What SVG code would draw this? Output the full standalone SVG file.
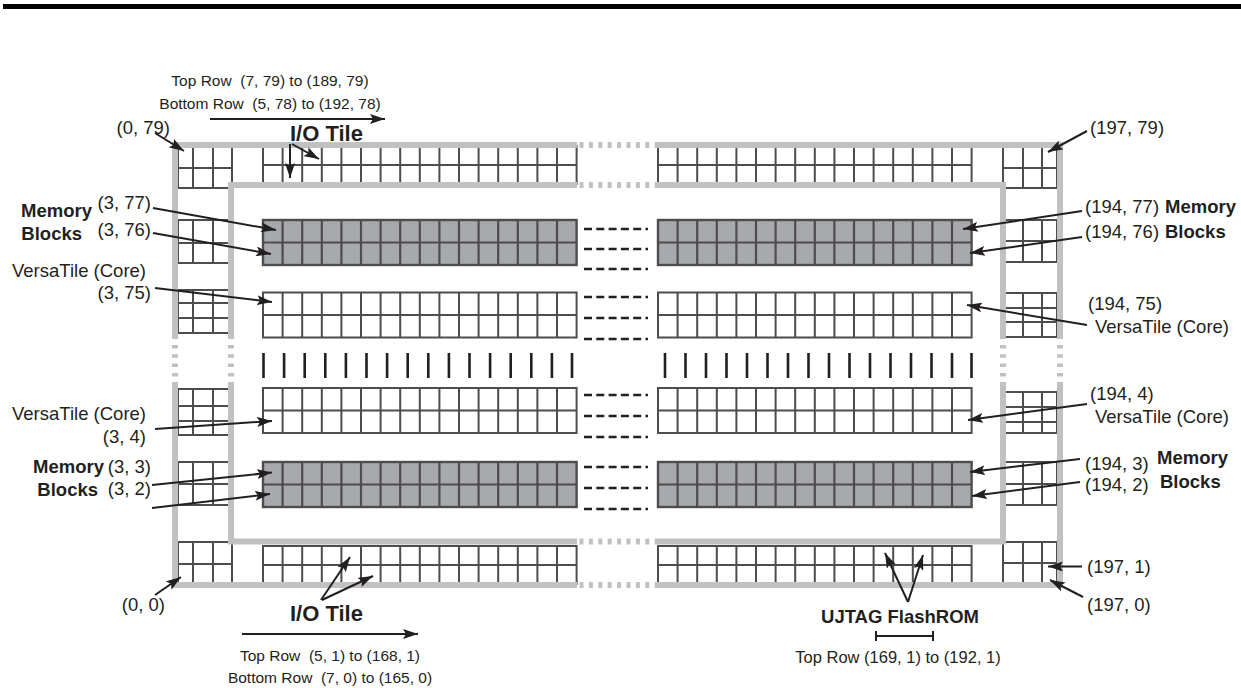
<svg xmlns="http://www.w3.org/2000/svg" xmlns:xlink="http://www.w3.org/1999/xlink" width="1241" height="688" viewBox="0 0 1241 688">
<style>
.g{fill:none;stroke:#4d4d4d;stroke-width:2}
.w{fill:#fff;stroke:#4d4d4d;stroke-width:2}
.m{fill:#a7a9ac;stroke:#4d4d4d;stroke-width:2.4}
.fr{fill:none;stroke:#bfc1c3;stroke-width:6}
.dt{fill:none;stroke:#bfc1c3;stroke-width:6;stroke-dasharray:4 5.4}
.dv{fill:none;stroke:#bfc1c3;stroke-width:6;stroke-dasharray:3.5 5.8}
.ds{fill:none;stroke:#231f20;stroke-width:2.6;stroke-dasharray:8 4.3}
.bar{fill:none;stroke:#231f20;stroke-width:2.6}
.ar{fill:none;stroke:#231f20;stroke-width:2;marker-end:url(#ah)}
.t{font-family:"Liberation Sans",Arial,sans-serif;font-size:18.5px;fill:#231f20}
.r{font-size:15.5px}
.r2{font-size:16.5px}
.b{font-weight:bold;font-size:18.5px}
.big{font-weight:bold;font-size:22px}
</style>
<defs>
<marker id="ah" markerUnits="userSpaceOnUse" markerWidth="16" markerHeight="10" viewBox="0 0 16 10" refX="15" refY="5" orient="auto">
<path d="M0,0 L15,5 L0,10 L3,5 Z" fill="#231f20"/>
</marker>
<path id="cols45" d="M19.6,0V45M39.2,0V45M58.8,0V45M78.4,0V45M98,0V45M117.6,0V45M137.2,0V45M156.8,0V45M176.4,0V45M196,0V45M215.6,0V45M235.2,0V45M254.8,0V45M274.4,0V45M294,0V45"/>
<path id="cols38" d="M19.6,0V38M39.2,0V38M58.8,0V38M78.4,0V38M98,0V38M117.6,0V38M137.2,0V38M156.8,0V38M176.4,0V38M196,0V38M215.6,0V38M235.2,0V38M254.8,0V38M274.4,0V38M294,0V38"/>
<g id="memblk"><rect class="m" width="313.6" height="45"/><use xlink:href="#cols45" class="g" style="stroke-width:2.2"/><path class="g" d="M0,22.5H313.6"/></g>
<g id="vtblk"><rect class="w" width="313.6" height="45"/><use xlink:href="#cols45" class="g"/><path class="g" d="M0,22.5H313.6"/></g>
<g id="ioblk"><rect class="w" width="313.6" height="38"/><use xlink:href="#cols38" class="g"/><path class="g" d="M0,19H313.6"/></g>
</defs>
<rect x="3" y="4" width="1238" height="5" fill="#000"/>

<g id="io-top-left"><use xlink:href="#ioblk" x="263" y="146"/></g>
<g id="io-top-right"><use xlink:href="#ioblk" x="658" y="146"/></g>
<g id="io-bottom-left"><use xlink:href="#ioblk" x="263" y="546"/></g>
<g id="io-bottom-right"><use xlink:href="#ioblk" x="658" y="546"/></g>

<g id="left-io-column">
<rect class="w" x="178" y="146" width="54" height="42"/><path class="g" d="M193,146V188M213,146V188M178,168H232"/>
<rect class="w" x="178" y="220" width="53" height="43"/><path class="g" d="M193,220V263M213,220V263M178,243H231"/>
<rect class="w" x="178" y="290" width="53" height="43"/><path class="g" d="M193,290V333M213,290V333M178,303H231M178,318H231"/>
<rect class="w" x="178" y="389" width="53" height="46"/><path class="g" d="M193,389V435M213,389V435M178,406H231M178,421H231"/>
<rect class="w" x="178" y="462" width="53" height="43"/><path class="g" d="M193,462V505M213,462V505M178,484H231"/>
<rect class="w" x="178" y="542" width="54" height="43"/><path class="g" d="M193,542V585M213,542V585M178,564H232"/>
</g>
<g id="right-io-column">
<rect class="w" x="1003" y="146" width="54" height="42"/><path class="g" d="M1023,146V188M1042,146V188M1003,168H1057"/>
<rect class="w" x="1003" y="220" width="54" height="42"/><path class="g" d="M1023,220V262M1042,220V262M1003,241H1057"/>
<rect class="w" x="1003" y="293" width="54" height="44"/><path class="g" d="M1023,293V337M1042,293V337M1003,308H1057M1003,322H1057"/>
<rect class="w" x="1003" y="392" width="54" height="41"/><path class="g" d="M1023,392V433M1042,392V433M1003,407H1057M1003,422H1057"/>
<rect class="w" x="1003" y="462" width="54" height="43"/><path class="g" d="M1023,462V505M1042,462V505M1003,484H1057"/>
<rect class="w" x="1003" y="542" width="54" height="43"/><path class="g" d="M1023,542V585M1042,542V585M1003,563H1057"/>
</g>

<g id="frame">
<path class="fr" d="M172,145H577M656,145H1063M172,585H577M656,585H1063M175,142V339M175,382V588M1060,142V339M1060,382V588"/>
<path class="fr" d="M228,185H577M656,185H1006M228,541.5H577M656,541.5H1006M231,182V339M231,382V544.5M1003,182V339M1003,382V544.5"/>
<path class="dt" d="M579.5,145H656M579.5,185H656M579.5,541.5H656M579.5,585H656"/>
<path class="dv" d="M175,345V378M231,345V378M1003,345V378M1060,345V378"/>
</g>

<g id="mem-top-left"><use xlink:href="#memblk" x="263" y="220"/></g>
<g id="mem-top-right"><use xlink:href="#memblk" x="658" y="220"/></g>
<g id="vt-top-left"><use xlink:href="#vtblk" x="263" y="292.5"/></g>
<g id="vt-top-right"><use xlink:href="#vtblk" x="658" y="292.5"/></g>
<g id="vt-bottom-left"><use xlink:href="#vtblk" x="263" y="388"/></g>
<g id="vt-bottom-right"><use xlink:href="#vtblk" x="658" y="388"/></g>
<g id="mem-bottom-left"><use xlink:href="#memblk" x="263" y="462"/></g>
<g id="mem-bottom-right"><use xlink:href="#memblk" x="658" y="462"/></g>

<g id="ellipsis">
<path class="ds" d="M584,229H648M584,249H648M584,269H648M584,297H648M584,318H648M584,339H648M584,395H648M584,416H648M584,437H648M584,467H648M584,488H648M584,509H648"/>
<path class="bar" d="M263.5,353V378M284.1,353V378M304.7,353V378M325.3,353V378M345.9,353V378M366.5,353V378M387.1,353V378M407.7,353V378M428.3,353V378M448.9,353V378M469.5,353V378M490.1,353V378M510.7,353V378M531.3,353V378M551.9,353V378M572,353V378"/>
<path class="bar" d="M665,353V378M685.5,353V378M706,353V378M726.5,353V378M747,353V378M767.5,353V378M788,353V378M808.5,353V378M829,353V378M849.5,353V378M870,353V378M890.5,353V378M911,353V378M931.5,353V378M952,353V378M971.5,353V378"/>
</g>

<g id="connectors">
<path class="ar" d="M210,119H385"/>
<path class="ar" d="M290,144V178"/>
<path class="ar" d="M292,144L319,159"/>
<path class="ar" d="M155,133L184,151"/>
<path class="ar" d="M1087,131L1048,152"/>
<path class="ar" d="M153,208L276,230"/>
<path class="ar" d="M153,233L271,254"/>
<path class="ar" d="M155,288L272,302"/>
<path class="ar" d="M155,429L272,421"/>
<path class="ar" d="M152,485L272,472.5"/>
<path class="ar" d="M152,508L270,494"/>
<path class="ar" d="M1082,211L963,229"/>
<path class="ar" d="M1082,237L970,253"/>
<path class="ar" d="M1087,325L967,305"/>
<path class="ar" d="M1087,404L968,420"/>
<path class="ar" d="M1080,459L970,472"/>
<path class="ar" d="M1080,482L972,496"/>
<path class="ar" d="M1082,566.5H1048"/>
<path class="ar" d="M1083,597L1050,580"/>
<path class="ar" d="M155,595L181,577"/>
<path class="ar" d="M321,600L350,557"/>
<path class="ar" d="M322,600L373,576"/>
<path class="ar" d="M242,634H418"/>
<path class="ar" d="M908,602L885,553"/>
<path class="ar" d="M908,602L923,555"/>
<path d="M876,636H933M876,631V641M933,631V641" fill="none" stroke="#231f20" stroke-width="2"/>
</g>

<g id="labels" class="t">
<text class="r" x="270" y="86" text-anchor="middle">Top Row&#160; (7, 79) to (189, 79)</text>
<text class="r" x="270" y="109" text-anchor="middle">Bottom Row&#160; (5, 78) to (192, 78)</text>
<text class="big" x="290" y="141">I/O Tile</text>
<text x="170" y="134" text-anchor="end">(0, 79)</text>
<text x="1090" y="134">(197, 79)</text>
<text class="b" x="92" y="217" text-anchor="end">Memory</text>
<text x="151" y="209" text-anchor="end">(3, 77)</text>
<text class="b" x="82" y="240" text-anchor="end">Blocks</text>
<text x="151" y="236" text-anchor="end">(3, 76)</text>
<text x="146" y="277" text-anchor="end">VersaTile (Core)</text>
<text x="151" y="299" text-anchor="end">(3, 75)</text>
<text x="146" y="420" text-anchor="end">VersaTile (Core)</text>
<text x="146" y="443" text-anchor="end">(3, 4)</text>
<text class="b" x="104" y="473" text-anchor="end">Memory</text>
<text x="151" y="473" text-anchor="end">(3, 3)</text>
<text class="b" x="98" y="496" text-anchor="end">Blocks</text>
<text x="151" y="495" text-anchor="end">(3, 2)</text>
<text x="165" y="611" text-anchor="end">(0, 0)</text>
<text x="1085" y="213">(194, 77)</text>
<text class="b" x="1165" y="213">Memory</text>
<text x="1085" y="238">(194, 76)</text>
<text class="b" x="1165" y="238">Blocks</text>
<text x="1088" y="310">(194, 75)</text>
<text x="1095" y="333">VersaTile (Core)</text>
<text x="1090" y="400">(194, 4)</text>
<text x="1095" y="423">VersaTile (Core)</text>
<text x="1085" y="470">(194, 3)</text>
<text class="b" x="1157" y="464">Memory</text>
<text x="1085" y="491">(194, 2)</text>
<text class="b" x="1160" y="488">Blocks</text>
<text x="1087" y="573">(197, 1)</text>
<text x="1087" y="611">(197, 0)</text>
<text class="big" x="290" y="621">I/O Tile</text>
<text class="r" x="330" y="661" text-anchor="middle">Top Row&#160; (5, 1) to (168, 1)</text>
<text class="r" x="330" y="683" text-anchor="middle">Bottom Row&#160; (7, 0) to (165, 0)</text>
<text class="b" x="900" y="623" text-anchor="middle">UJTAG FlashROM</text>
<text class="r2" x="898" y="663" text-anchor="middle">Top Row (169, 1) to (192, 1)</text>
</g>
</svg>
